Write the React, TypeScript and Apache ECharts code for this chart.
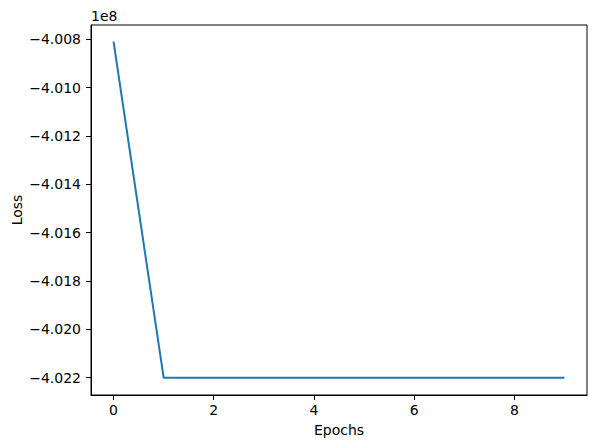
import React, { useEffect, useRef } from "react";
import * as echarts from "echarts";

const epochs = [0, 1, 2, 3, 4, 5, 6, 7, 8, 9];
const loss = [-400810000, -402200000, -402200000, -402200000, -402200000, -402200000, -402200000, -402200000, -402200000, -402200000];
const xTicks = [0, 2, 4, 6, 8];
const yTicks = [-400800000, -401000000, -401200000, -401400000, -401600000, -401800000, -402000000, -402200000];

const FONT = "DejaVu Sans";

export default function App() {
  const ref = useRef<HTMLDivElement>(null);
  useEffect(() => {
    if (!ref.current) return;
    const chart = echarts.init(ref.current, null, { renderer: "svg" });
    const fmtY = (v: number) => (v / 1e8).toFixed(3).replace("-", "\u2212");
    chart.setOption({
      animation: false,
      backgroundColor: "#ffffff",
      textStyle: { fontFamily: FONT },
      grid: { left: 91, right: 9, top: 25, bottom: 53, show: true, borderColor: "#000", borderWidth: 1, backgroundColor: "transparent", containLabel: false, outerBoundsMode: "none" },
      graphic: [
        { type: "text", left: 91, top: 9, style: { text: "1e8", fontFamily: FONT, fontSize: 14, fill: "#000" } },
      ],
      xAxis: {
        type: "value",
        min: -0.45,
        max: 9.45,
        name: "Epochs",
        nameLocation: "middle",
        nameGap: 28,
        nameMoveOverlap: false,
        nameTextStyle: { fontFamily: FONT, fontSize: 14, color: "#000" },
        axisLine: { show: true, onZero: false, lineStyle: { color: "#000", width: 1 } },
        axisTick: { show: true, length: 5, lineStyle: { color: "#000" }, customValues: xTicks },
        axisLabel: { customValues: xTicks, fontFamily: FONT, fontSize: 14, color: "#000", margin: 8 },
        splitLine: { show: false },
      },
      yAxis: {
        type: "value",
        min: -402271600,
        max: -400741000,
        name: "Loss",
        nameLocation: "middle",
        nameGap: 67,
        nameMoveOverlap: false,
        nameTextStyle: { fontFamily: FONT, fontSize: 14, color: "#000" },
        axisLine: { show: true, onZero: false, lineStyle: { color: "#000", width: 1 } },
        axisTick: { show: true, length: 5, lineStyle: { color: "#000" }, customValues: yTicks },
        axisLabel: { customValues: yTicks, formatter: fmtY, fontFamily: FONT, fontSize: 14, color: "#000", margin: 10 },
        splitLine: { show: false },
      },
      series: [
        {
          type: "line",
          data: epochs.map((e, i) => [e, loss[i]]),
          showSymbol: false,
          symbol: "none",
          lineStyle: { color: "#1f77b4", width: 2 },
        },
      ],
    });
    return () => chart.dispose();
  }, []);
  return <div ref={ref} style={{ position: "fixed", left: 0, top: 0, width: 596, height: 448 }} />;
}
